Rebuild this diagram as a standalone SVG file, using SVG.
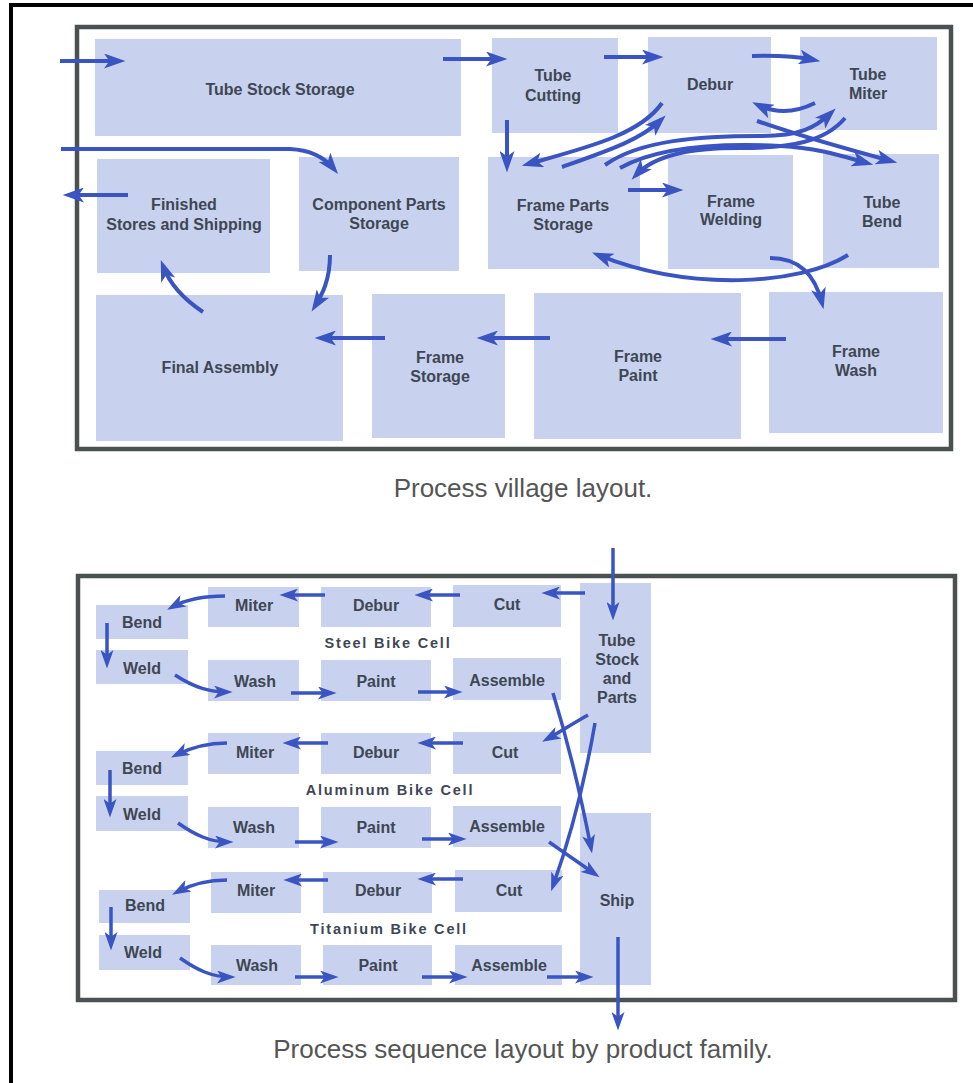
<svg xmlns="http://www.w3.org/2000/svg" width="973" height="1083" viewBox="0 0 973 1083">
  <defs>
    <marker id="ah" viewBox="0 0 20 14" markerWidth="22" markerHeight="15" refX="14" refY="7" orient="auto" markerUnits="userSpaceOnUse">
      <path d="M0,0 L20,7 L0,14 L5,7 z" fill="#3a54c2"/>
    </marker>
    <marker id="ah2" viewBox="0 0 20 14" markerWidth="19" markerHeight="13" refX="14" refY="7" orient="auto" markerUnits="userSpaceOnUse">
      <path d="M0,0 L20,7 L0,14 L5,7 z" fill="#3a54c2"/>
    </marker>
  </defs>
  <style>
    .frame { fill: none; stroke: #000; stroke-width: 4; }
    .panel { fill: #fff; stroke: #4b5050; stroke-width: 4.5; }
    .box { fill: #c8d2ee; }
    .lbl { font-family: "Liberation Sans", Arial, sans-serif; font-weight: bold; font-size: 16px; fill: #3f4654; text-anchor: middle; }
    .cell { font-family: "Liberation Sans", Arial, sans-serif; font-weight: bold; font-size: 14.5px; letter-spacing: 1.8px; fill: #3f4654; text-anchor: middle; }
    .cap { font-family: "Liberation Sans", Arial, sans-serif; font-size: 26px; fill: #555; text-anchor: middle; }
    .a { fill: none; stroke: #3a54c2; stroke-width: 4; marker-end: url(#ah); }
    .b { fill: none; stroke: #3a54c2; stroke-width: 3.5; marker-end: url(#ah2); }
  </style>

  <rect width="973" height="1083" fill="#fff"/>
  <!-- page frame -->
  <path class="frame" d="M11,1090 L11,5 L980,5"/>

  <!-- ===== Process village layout ===== -->
  <rect class="panel" x="77" y="27" width="874" height="422"/>

  <g id="tube-stock-storage"><rect class="box" x="95" y="39" width="366" height="97"/><text class="lbl" x="280" y="95">Tube Stock Storage</text></g>
  <g id="tube-cutting"><rect class="box" x="492" y="38" width="126" height="95"/><text class="lbl" x="553" y="81">Tube</text><text class="lbl" x="553" y="101">Cutting</text></g>
  <g id="debur"><rect class="box" x="648" y="37" width="123" height="96"/><text class="lbl" x="710" y="90">Debur</text></g>
  <g id="tube-miter"><rect class="box" x="800" y="37" width="137" height="93"/><text class="lbl" x="868" y="80">Tube</text><text class="lbl" x="868" y="99">Miter</text></g>
  <g id="finished-stores"><rect class="box" x="97" y="159" width="173" height="114"/><text class="lbl" x="184" y="210">Finished</text><text class="lbl" x="184" y="230">Stores and Shipping</text></g>
  <g id="component-parts"><rect class="box" x="299" y="157" width="160" height="114"/><text class="lbl" x="379" y="210">Component Parts</text><text class="lbl" x="379" y="229">Storage</text></g>
  <g id="frame-parts-storage"><rect class="box" x="488" y="157" width="152" height="112"/><text class="lbl" x="563" y="211">Frame Parts</text><text class="lbl" x="563" y="230">Storage</text></g>
  <g id="frame-welding"><rect class="box" x="668" y="155" width="125" height="114"/><text class="lbl" x="731" y="207">Frame</text><text class="lbl" x="731" y="225">Welding</text></g>
  <g id="tube-bend"><rect class="box" x="823" y="154" width="116" height="114"/><text class="lbl" x="882" y="208">Tube</text><text class="lbl" x="882" y="227">Bend</text></g>
  <g id="final-assembly"><rect class="box" x="96" y="295" width="247" height="146"/><text class="lbl" x="220" y="373">Final Assembly</text></g>
  <g id="frame-storage"><rect class="box" x="372" y="294" width="133" height="144"/><text class="lbl" x="440" y="363">Frame</text><text class="lbl" x="440" y="382">Storage</text></g>
  <g id="frame-paint"><rect class="box" x="534" y="293" width="207" height="146"/><text class="lbl" x="638" y="362">Frame</text><text class="lbl" x="638" y="381">Paint</text></g>
  <g id="frame-wash"><rect class="box" x="769" y="292" width="174" height="141"/><text class="lbl" x="856" y="357">Frame</text><text class="lbl" x="856" y="376">Wash</text></g>

  <g id="village-connectors">
    <path class="a" d="M60,61 L119,61"/>
    <path class="a" d="M443,59 L501,59"/>
    <path class="a" d="M604,57 L657,57"/>
    <path class="a" d="M752,56 Q790,55 814,60"/>
    <path class="a" d="M815,103 Q785,118 758,105"/>
    <path class="a" d="M507,120 L507,166"/>
    <path class="a" d="M662,103 C640,135 585,148 528,164"/>
    <path class="a" d="M562,167 C610,150 640,140 661,120"/>
    <path class="a" d="M605,165 C640,140 700,136 760,136 C800,136 815,128 831,113"/>
    <path class="a" d="M845,118 C825,142 790,148 740,148 C690,148 655,155 636,175"/>
    <path class="a" d="M620,168 C660,146 720,143 780,146 C820,148 845,157 867,163"/>
    <path class="a" d="M757,121 C800,136 850,150 891,161"/>
    <path class="a" d="M628,190 L677,190"/>
    <path class="a" d="M848,255 C800,285 690,292 598,255"/>
    <path class="a" d="M770,258 C800,258 815,275 822,303"/>
    <path class="a" d="M786,339 L717,339"/>
    <path class="a" d="M550,338 L483,338"/>
    <path class="a" d="M385,338 L321,338"/>
    <path class="a" d="M330,255 C330,280 322,295 315,306"/>
    <path class="a" d="M203,312 C185,300 170,285 163,266"/>
    <path class="a" d="M128,195 L69,195"/>
    <path class="a" d="M61,149 L290,149 C310,150 325,158 334,169"/>
  </g>

  <text class="cap" x="523" y="497">Process village layout.</text>

  <!-- ===== Process sequence layout ===== -->
  <rect class="panel" x="78" y="576" width="877" height="424"/>

  <!-- steel cell -->
  <g id="steel-miter"><rect class="box" x="208" y="587" width="91" height="40"/><text class="lbl" x="254" y="611">Miter</text></g>
  <g id="steel-debur"><rect class="box" x="321" y="587" width="110" height="40"/><text class="lbl" x="376" y="611">Debur</text></g>
  <g id="steel-cut"><rect class="box" x="453" y="585" width="108" height="42"/><text class="lbl" x="507" y="610">Cut</text></g>
  <g id="steel-bend"><rect class="box" x="96" y="605" width="92" height="34"/><text class="lbl" x="142" y="628">Bend</text></g>
  <g id="steel-weld"><rect class="box" x="96" y="650" width="92" height="34"/><text class="lbl" x="142" y="674">Weld</text></g>
  <g id="steel-wash"><rect class="box" x="208" y="660" width="91" height="41"/><text class="lbl" x="255" y="687">Wash</text></g>
  <g id="steel-paint"><rect class="box" x="321" y="660" width="110" height="41"/><text class="lbl" x="376" y="687">Paint</text></g>
  <g id="steel-assemble"><rect class="box" x="453" y="658" width="108" height="42"/><text class="lbl" x="507" y="686">Assemble</text></g>
  <text class="cell" x="388" y="648">Steel Bike Cell</text>

  <g id="tube-stock-parts"><rect class="box" x="580" y="583" width="71" height="170"/><text class="lbl" x="617" y="646">Tube</text><text class="lbl" x="617" y="665">Stock</text><text class="lbl" x="617" y="684">and</text><text class="lbl" x="617" y="703">Parts</text></g>
  <g id="ship"><rect class="box" x="580" y="813" width="71" height="172"/><text class="lbl" x="617" y="906">Ship</text></g>

  <!-- aluminum cell -->
  <g id="al-miter"><rect class="box" x="208" y="733" width="91" height="41"/><text class="lbl" x="255" y="758">Miter</text></g>
  <g id="al-debur"><rect class="box" x="321" y="733" width="110" height="41"/><text class="lbl" x="376" y="758">Debur</text></g>
  <g id="al-cut"><rect class="box" x="453" y="732" width="108" height="42"/><text class="lbl" x="505" y="758">Cut</text></g>
  <g id="al-bend"><rect class="box" x="96" y="751" width="92" height="34"/><text class="lbl" x="142" y="774">Bend</text></g>
  <g id="al-weld"><rect class="box" x="96" y="796" width="92" height="35"/><text class="lbl" x="142" y="820">Weld</text></g>
  <g id="al-wash"><rect class="box" x="208" y="807" width="91" height="41"/><text class="lbl" x="254" y="833">Wash</text></g>
  <g id="al-paint"><rect class="box" x="321" y="807" width="110" height="41"/><text class="lbl" x="376" y="833">Paint</text></g>
  <g id="al-assemble"><rect class="box" x="453" y="806" width="108" height="41"/><text class="lbl" x="507" y="832">Assemble</text></g>
  <text class="cell" x="390" y="795">Aluminum Bike Cell</text>

  <!-- titanium cell -->
  <g id="ti-miter"><rect class="box" x="211" y="872" width="90" height="41"/><text class="lbl" x="256" y="896">Miter</text></g>
  <g id="ti-debur"><rect class="box" x="323" y="872" width="109" height="41"/><text class="lbl" x="378" y="896">Debur</text></g>
  <g id="ti-cut"><rect class="box" x="455" y="870" width="107" height="42"/><text class="lbl" x="509" y="896">Cut</text></g>
  <g id="ti-bend"><rect class="box" x="99" y="890" width="91" height="33"/><text class="lbl" x="145" y="911">Bend</text></g>
  <g id="ti-weld"><rect class="box" x="99" y="935" width="91" height="35"/><text class="lbl" x="143" y="958">Weld</text></g>
  <g id="ti-wash"><rect class="box" x="211" y="945" width="90" height="40"/><text class="lbl" x="257" y="971">Wash</text></g>
  <g id="ti-paint"><rect class="box" x="323" y="945" width="109" height="40"/><text class="lbl" x="378" y="971">Paint</text></g>
  <g id="ti-assemble"><rect class="box" x="455" y="945" width="107" height="40"/><text class="lbl" x="509" y="971">Assemble</text></g>
  <text class="cell" x="389" y="934">Titanium Bike Cell</text>

  <g id="sequence-connectors">
    <path class="b" d="M613,548 L613,615"/>
    <path class="b" d="M585,593 L547,593"/>
    <path class="b" d="M460,595 L420,595"/>
    <path class="b" d="M325,595 L285,595"/>
    <path class="b" d="M225,596 C200,596 185,600 172,607"/>
    <path class="b" d="M107,623 L107,663"/>
    <path class="b" d="M175,675 C195,688 210,692 227,692"/>
    <path class="b" d="M291,693 L331,693"/>
    <path class="b" d="M418,692 L457,692"/>
    <path class="b" d="M553,693 Q575,765 591,848"/>
    <path class="b" d="M588,715 C572,724 560,732 547,739"/>
    <path class="b" d="M595,723 Q580,810 553,886"/>

    <path class="b" d="M463,743 L423,743"/>
    <path class="b" d="M328,743 L288,743"/>
    <path class="b" d="M227,743 C205,743 190,748 176,755"/>
    <path class="b" d="M110,770 L110,812"/>
    <path class="b" d="M178,823 C195,835 210,842 228,842"/>
    <path class="b" d="M295,842 L333,842"/>
    <path class="b" d="M422,839 L461,839"/>
    <path class="b" d="M549,842 L595,874"/>

    <path class="b" d="M463,879 L423,879"/>
    <path class="b" d="M328,880 L289,880"/>
    <path class="b" d="M227,880 C205,880 190,885 177,892"/>
    <path class="b" d="M111,907 L111,945"/>
    <path class="b" d="M180,958 C197,970 212,977 230,977"/>
    <path class="b" d="M295,977 L333,977"/>
    <path class="b" d="M422,977 L462,977"/>
    <path class="b" d="M547,977 L588,977"/>
    <path class="b" d="M618,937 L618,1025"/>
  </g>

  <text class="cap" x="523" y="1058">Process sequence layout by product family.</text>
</svg>
